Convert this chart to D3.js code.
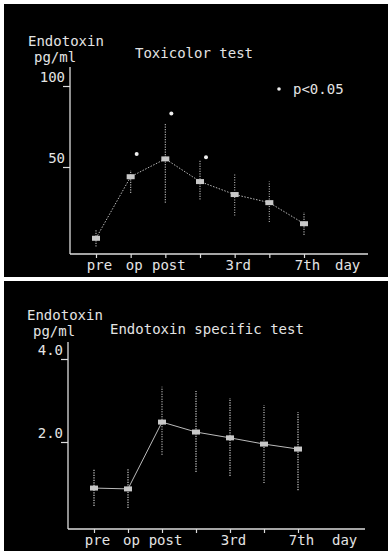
<!DOCTYPE html>
<html>
<head>
<meta charset="utf-8">
<script src="https://cdn.jsdelivr.net/npm/d3@7"></script>
<style>
  body { margin: 0; background: #fff; }
  svg { display: block; }
  text { font-family: "DejaVu Sans Mono", monospace; font-size: 14px; fill: #e4e4e4; }
</style>
</head>
<body>
<svg id="chart" width="388" height="551"></svg>
<script>
// days after operation
var days = ['pre', 'op', 'post', 'd1', '3rd', 'd5', '7th'];
var dayLabels = ['pre', 'op', 'post', '', '3rd', '', '7th'];

// Toxicolor test, pg/ml
var toxMean = [6, 44, 55, 41, 33, 28, 15];
var toxLow = [1, 34, 28, 30, 20, 16, 8];
var toxHigh = [11, 48, 77, 54, 46, 41, 22];
var toxSig = [null, 58, 83, 56, null, null, null]; // * p<0.05
var toxTicks = [50, 100];

// Endotoxin specific test, pg/ml
var specMean = [0.89, 0.87, 2.48, 2.24, 2.10, 1.95, 1.83];
var specLow = [0.46, 0.41, 1.69, 1.28, 1.18, 1.01, 0.84];
var specHigh = [1.35, 1.37, 3.33, 3.23, 3.06, 2.89, 2.72];
var specTicks = [2, 4];

var svg = d3.select('#chart');

// black photo panels
svg.append('rect').attr('x', 4).attr('y', 4).attr('width', 384).attr('height', 273).attr('fill', '#000');
svg.append('rect').attr('x', 4).attr('y', 281).attr('width', 384).attr('height', 270).attr('fill', '#000');

var drawPanel = function(opts) {
  var g = svg.append('g');
  var x = d3.scalePoint().domain(days).range(opts.xRange);
  var y = d3.scaleLinear().domain(opts.yDomain).range(opts.yRange);

  // axis lines
  g.append('line').attr('x1', opts.axisX).attr('x2', opts.axisX)
    .attr('y1', opts.axisTop).attr('y2', opts.axisY)
    .attr('stroke', '#ddd').attr('stroke-width', 1.3);
  g.append('line').attr('x1', opts.axisX).attr('x2', opts.axisRight)
    .attr('y1', opts.axisY).attr('y2', opts.axisY)
    .attr('stroke', '#ddd').attr('stroke-width', 1.3);

  // y ticks, label sitting above the tick
  var yAxis = g.append('g').attr('transform', 'translate(' + opts.axisX + ',0)')
    .call(d3.axisLeft(y).tickValues(opts.ticks).tickSize(7).tickFormat(opts.fmt));
  yAxis.select('.domain').remove();
  yAxis.selectAll('line').attr('stroke', '#ddd').attr('stroke-width', 1.2);
  yAxis.selectAll('text').attr('x', -5).attr('dy', '-0.35em')
    .attr('fill', '#e4e4e4').style('font-size', '14px').style('font-family', '"DejaVu Sans Mono", monospace');

  // x ticks
  var xAxis = g.append('g').attr('transform', 'translate(0,' + opts.axisY + ')')
    .call(d3.axisBottom(x).tickSize(4).tickFormat(function(d, i) { return dayLabels[i]; }));
  xAxis.select('.domain').remove();
  xAxis.selectAll('line').attr('stroke', '#ddd').attr('stroke-width', 1.2);
  xAxis.selectAll('text').attr('y', opts.labelY - opts.axisY).attr('dy', 0).attr('dx', 3)
    .attr('fill', '#e4e4e4').style('font-size', '14px').style('font-family', '"DejaVu Sans Mono", monospace');
  g.append('text').attr('x', opts.axisRight - 33).attr('y', opts.labelY).text('day');

  // titles
  g.append('text').attr('x', opts.titleX).attr('y', opts.titleY).text('Endotoxin');
  g.append('text').attr('x', opts.titleX + 6).attr('y', opts.titleY + opts.unitGap).text('pg/ml');
  g.append('text').attr('x', opts.subX).attr('y', opts.subY).attr('fill', opts.subColor).text(opts.title);

  // error bars
  g.selectAll('.err').data(days).enter().append('line')
    .attr('x1', function(d) { return x(d); }).attr('x2', function(d) { return x(d); })
    .attr('y1', function(d, i) { return y(opts.low[i]); })
    .attr('y2', function(d, i) { return y(opts.high[i]); })
    .attr('stroke', opts.errColor).attr('stroke-width', 1.2).attr('stroke-dasharray', '1.2,1.3');

  // mean line
  var line = d3.line().x(function(d, i) { return x(days[i]); }).y(function(d) { return y(d); });
  g.append('path').datum(opts.mean).attr('d', line)
    .attr('fill', 'none').attr('stroke', '#bbb').attr('stroke-width', 1)
    .attr('stroke-dasharray', opts.dash);

  // markers
  g.selectAll('.mk').data(opts.mean).enter().append('rect')
    .attr('x', function(d, i) { return x(days[i]) - 4; })
    .attr('y', function(d) { return y(d) - 2.5; })
    .attr('width', 8).attr('height', 5)
    .attr('fill', '#c8c8c8');

  return { x: x, y: y, g: g };
};

var toxPanel = drawPanel({
  xRange: [96, 304], yDomain: [0, 100], yRange: [248, 86],
  axisX: 70, axisTop: 67, axisY: 254, axisRight: 368, labelY: 270,
  ticks: toxTicks, fmt: d3.format('d'),
  titleX: 28, titleY: 46, unitGap: 16, subX: 135, subY: 58, title: 'Toxicolor  test',
  subColor: '#bbb', errColor: '#aaa',
  mean: toxMean, low: toxLow, high: toxHigh, dash: '1.5,1.5'
});

// significance marks
var sigData = days.map(function(d, i) { return { day: d, v: toxSig[i] }; })
  .filter(function(d) { return d.v !== null; });
toxPanel.g.selectAll('.sig').data(sigData).enter().append('circle')
  .attr('cx', function(d) { return toxPanel.x(d.day) + 6; })
  .attr('cy', function(d) { return toxPanel.y(d.v); })
  .attr('r', 2).attr('fill', '#eee');
toxPanel.g.append('circle').attr('cx', 279).attr('cy', 89).attr('r', 1.8).attr('fill', '#eee');
toxPanel.g.append('text').attr('x', 293).attr('y', 94).text('p<0.05');

drawPanel({
  xRange: [94, 298], yDomain: [0, 4], yRange: [525, 359],
  axisX: 68, axisTop: 342, axisY: 529, axisRight: 365, labelY: 545,
  ticks: specTicks, fmt: d3.format('.1f'),
  titleX: 27, titleY: 320, unitGap: 16, subX: 110, subY: 334, title: 'Endotoxin specific test',
  subColor: '#d8d8d8', errColor: '#ccc',
  mean: specMean, low: specLow, high: specHigh, dash: null
});
</script>
</body>
</html>
